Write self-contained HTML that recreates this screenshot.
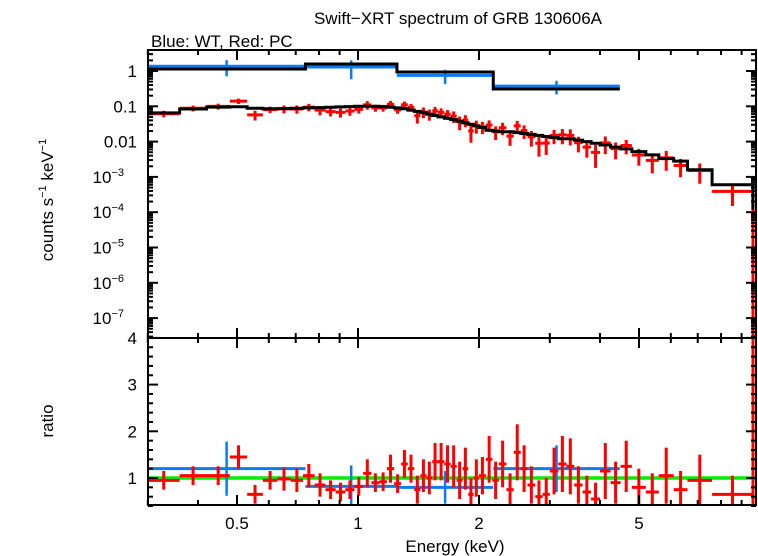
<!DOCTYPE html>
<html><head><meta charset="utf-8"><style>
html,body{margin:0;padding:0;background:#fff;}
svg{display:block;font-family:"Liberation Sans",sans-serif;}
</style></head><body>
<svg id="chart" width="758" height="556" xmlns="http://www.w3.org/2000/svg">
<text x="458" y="24" font-size="17" text-anchor="middle">Swift−XRT spectrum of GRB 130606A</text>
<text x="151" y="47" font-size="17">Blue: WT, Red: PC</text>
<g id="topPanel"></g>
<g id="botPanel"></g>
<text transform="translate(53,200) rotate(-90)" font-size="17" text-anchor="middle">counts s<tspan dy="-7" font-size="11">−1</tspan><tspan dy="7"> keV</tspan><tspan dy="-7" font-size="11">−1</tspan></text>
<text transform="translate(53,421) rotate(-90)" font-size="17" text-anchor="middle">ratio</text>
<text x="455" y="552" font-size="17" text-anchor="middle">Energy (keV)</text>
</svg>
<script>
// PC (red) data
const redEdges=[0.30,0.36,0.42,0.48,0.53,0.58,0.63,0.68,0.73,0.78,0.83,0.88,0.93,0.98,1.03,1.08,1.13,1.18,1.23,1.28,1.33,1.38,1.43,1.48,1.53,1.58,1.64,1.70,1.76,1.82,1.88,1.94,2.00,2.08,2.16,2.24,2.34,2.44,2.54,2.64,2.76,2.88,3.00,3.15,3.30,3.45,3.62,3.80,4.00,4.25,4.50,4.80,5.20,5.60,6.10,6.60,7.60,9.60];
const redModel=[0.065,0.084,0.095,0.097,0.088,0.085,0.086,0.088,0.09,0.092,0.094,0.096,0.098,0.1,0.1,0.1,0.098,0.095,0.09,0.085,0.078,0.072,0.066,0.06,0.055,0.05,0.046,0.042,0.038,0.034,0.031,0.028,0.025,0.021,0.02,0.019,0.019,0.018,0.017,0.016,0.015,0.014,0.013,0.012,0.012,0.011,0.010,0.009,0.008,0.007,0.0062,0.0052,0.0042,0.0033,0.0028,0.0016,0.0006];
const redRatio=[0.95,1.05,1.05,1.45,0.65,0.95,0.98,0.95,1.05,0.85,0.75,0.7,0.75,0.82,1.1,0.9,0.92,1.2,0.88,1.3,1.2,0.75,1.05,1.0,1.35,1.35,1.3,1.25,0.95,1.2,0.65,1.0,1.05,1.4,0.95,1.3,0.75,1.55,1.2,0.85,0.6,0.65,1.15,1.3,1.25,0.85,0.7,0.55,1.15,0.9,1.25,0.8,0.7,1.05,0.75,0.95,0.65,1.2];
const redErr=[0.2,0.2,0.2,0.25,0.2,0.2,0.25,0.25,0.25,0.25,0.2,0.2,0.2,0.2,0.3,0.2,0.2,0.3,0.2,0.3,0.3,0.3,0.35,0.35,0.4,0.4,0.4,0.45,0.4,0.45,0.35,0.4,0.4,0.5,0.4,0.5,0.35,0.6,0.5,0.4,0.35,0.35,0.5,0.6,0.6,0.4,0.35,0.35,0.6,0.45,0.55,0.4,0.4,0.6,0.4,0.55,0.4,0.6];
// WT (blue) data
const blueEdges=[0.30,0.74,1.25,2.17,4.48];
const blueModel=[1.14,1.58,0.94,0.31];
const blueRatio=[1.2,0.82,0.8,1.2];
const blueErr=[0.58,0.45,0.35,0.5];
const xTickVals=[0.5,1,2,5];
const xTickLabels=["0.5","1","2","5"];
const xMinor=[0.3,0.4,0.6,0.7,0.8,0.9,3,4,6,7,8,9];
const yTopExp=[0,-1,-2,-3,-4,-5,-6,-7];
const yTopLabels=["1","0.1","0.01","10|−3","10|−4","10|−5","10|−6","10|−7"];
const yRatioTicks=[1,2,3,4];

const NS="http://www.w3.org/2000/svg";
const L=148,R=756,T1=50,B1=338,T2=338,B2=505;
const xs=e=>358+402*Math.log10(e);
const ys=v=>71-35.3*Math.log10(v);
const yr=r=>478-46.7*(r-1);
const topG=document.getElementById('topPanel'),botG=document.getElementById('botPanel');
function el(p,tag,a){const e=document.createElementNS(NS,tag);for(const k in a)e.setAttribute(k,a[k]);p.appendChild(e);return e;}
function line(p,x1,y1,x2,y2,c,w,name){const e=el(p,'line',{x1,y1,x2,y2,stroke:c,'stroke-width':w});

return e;}
const clipT=el(topG,'clipPath',{id:'ct'});el(clipT,'rect',{x:L,y:T1,width:R-L,height:B1-T1});
const clipB=el(botG,'clipPath',{id:'cb'});el(clipB,'rect',{x:L,y:T2,width:R-L,height:B2-T2});
const gT=el(topG,'g',{'clip-path':'url(#ct)'});
const gB=el(botG,'g',{'clip-path':'url(#cb)'});
const RED='#ff0000',BLUE='#0a7cf0';
line(gB,L,yr(1),R,yr(1),'#00ee00',3.5,'unity-line');
for(let i=0;i<blueModel.length;i++){
 const lo=blueEdges[i],hi=blueEdges[i+1],c=Math.sqrt(lo*hi);
 const f=blueModel[i]*blueRatio[i],fe=blueModel[i]*blueErr[i];
 line(gT,xs(lo),ys(f),xs(hi),ys(f),BLUE,3,'wt-data-bin');
 line(gT,xs(c),ys(f+fe),xs(c),ys(Math.max(f-fe,1e-9)),BLUE,2.5,'wt-error-bar');
 line(gB,xs(lo),yr(blueRatio[i]),xs(hi),yr(blueRatio[i]),BLUE,3,'wt-ratio-bin');
 line(gB,xs(c),yr(blueRatio[i]+blueErr[i]),xs(c),yr(blueRatio[i]-blueErr[i]),BLUE,2.5,'wt-ratio-error');
}
let pb='';
for(let i=0;i<blueModel.length;i++){pb+=(i?'L':'M')+xs(blueEdges[i])+','+ys(blueModel[i])+'L'+xs(blueEdges[i+1])+','+ys(blueModel[i]);}
const bm=el(gT,'path',{d:pb,fill:'none',stroke:'#000','stroke-width':3});


for(let i=0;i<redModel.length;i++){
 const lo=redEdges[i],hi=redEdges[i+1],c=Math.sqrt(lo*hi);
 const f=redModel[i]*redRatio[i],fe=redModel[i]*redErr[i];
 line(gT,xs(lo),ys(f),xs(hi),ys(f),RED,3,'pc-data-bin');
 line(gT,xs(c),ys(f+fe),xs(c),ys(Math.max(f-fe,1e-9)),RED,3,'pc-error-bar');
 line(gB,xs(lo),yr(redRatio[i]),xs(hi),yr(redRatio[i]),RED,3,'pc-ratio-bin');
 line(gB,xs(c),yr(redRatio[i]+redErr[i]),xs(c),yr(redRatio[i]-redErr[i]),RED,3,'pc-ratio-error');
}
line(gT,753,ys(redModel[redModel.length-1]),753,B1,RED,3,'pc-last-error');
line(gB,753,T2,753,B2,RED,3,'pc-last-ratio-error');
let pr='';
for(let i=0;i<redModel.length;i++){pr+=(i?'L':'M')+xs(redEdges[i])+','+ys(redModel[i])+'L'+xs(redEdges[i+1])+','+ys(redModel[i]);}
pr+='L'+xs(redEdges[redEdges.length-1])+','+(ys(redModel[redModel.length-1])+25);
const rm=el(gT,'path',{d:pr,fill:'none',stroke:'#000','stroke-width':3});


for(const [g,t,b,n] of [[topG,T1,B1,'top-frame'],[botG,T2,B2,'bottom-frame']]){
 const r=el(g,'rect',{x:L,y:t,width:R-L,height:b-t,fill:'none',stroke:'#000','stroke-width':2});
 
 
 xTickVals.forEach(v=>{line(g,xs(v),t,xs(v),t+10,'#000',2,'x-major-tick');line(g,xs(v),b,xs(v),b-10,'#000',2,'x-major-tick');});
 xMinor.forEach(v=>{line(g,xs(v),t,xs(v),t+5,'#000',2,'x-minor-tick');line(g,xs(v),b,xs(v),b-5,'#000',2,'x-minor-tick');});
}
xTickVals.forEach((v,i)=>{const t=el(botG,'text',{x:xs(v),y:529,'font-size':17,'text-anchor':'middle'});t.textContent=xTickLabels[i];

});
for(let d=0;d>=-8;d--){
 const y=ys(Math.pow(10,d));
 if(y>T1&&y<B1){line(topG,L,y,L+10,y,'#000',2,'y-major-tick');line(topG,R,y,R-10,y,'#000',2,'y-major-tick');}
 for(let m=2;m<10;m++){const ym=ys(m*Math.pow(10,d));if(ym>T1&&ym<B1){line(topG,L,ym,L+5,ym,'#000',2,'y-minor-tick');line(topG,R,ym,R-5,ym,'#000',2,'y-minor-tick');}}
}
yTopExp.forEach((d,i)=>{
 const t=el(topG,'text',{x:137,y:ys(Math.pow(10,d))+6,'font-size':17,'text-anchor':'end'});
 
 
 const parts=yTopLabels[i].split('|');
 if(parts.length==1)t.textContent=parts[0];
 else{t.setAttribute('x',124);t.textContent=parts[0];const s=el(t,'tspan',{dy:-7,'font-size':11});s.textContent=parts[1];}
});
for(let r=0.4;r<=4.01;r+=0.2){const y=yr(r);const maj=Math.abs(r-Math.round(r))<0.01;
 line(botG,L,y,L+(maj?10:5),y,'#000',2,'ratio-tick');line(botG,R,y,R-(maj?10:5),y,'#000',2,'ratio-tick');}
yRatioTicks.forEach(v=>{const t=el(botG,'text',{x:137,y:yr(v)+6,'font-size':17,'text-anchor':'end'});t.textContent=String(v);

});
</script>
</body></html>
